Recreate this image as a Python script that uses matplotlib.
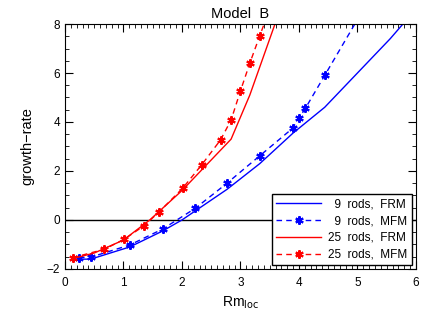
import matplotlib
matplotlib.use("Agg")
import matplotlib.pyplot as plt
from matplotlib.ticker import MultipleLocator

plt.rcParams['font.family'] = ['Liberation Sans', 'DejaVu Sans']

# 9 rods
x_9_frm = [0.15, 0.44, 1.11, 1.67, 2.0, 2.77, 3.33, 3.9, 4.44, 5.0, 5.56, 5.85]
y_9_frm = [-1.6, -1.6, -1.1, -0.45, 0.0, 1.25, 2.3, 3.55, 4.6, 6.0, 7.4, 8.2]
x_9_mfm = [0.24, 0.44, 1.11, 1.67, 2.23, 2.77, 3.33, 3.89, 4.0, 4.11, 4.44, 4.98]
y_9_mfm = [-1.54, -1.52, -1.02, -0.37, 0.48, 1.5, 2.62, 3.74, 4.15, 4.56, 5.9, 8.1]
mfm_9_markers = list(range(11))

# 25 rods
x_25_frm = [0.13, 0.5, 1.0, 1.45, 2.0, 2.4, 2.84, 3.16, 3.62]
y_25_frm = [-1.58, -1.35, -0.82, 0.0, 1.2, 2.2, 3.3, 5.1, 8.2]
x_25_mfm = [0.13, 0.67, 1.01, 1.35, 1.61, 2.01, 2.34, 2.66, 2.84, 3.0, 3.16, 3.33, 3.42]
y_25_mfm = [-1.54, -1.2, -0.79, -0.24, 0.33, 1.29, 2.26, 3.27, 4.08, 5.27, 6.4, 7.52, 8.1]
mfm_25_markers = list(range(12))

fig = plt.figure(figsize=(4.36, 3.12), dpi=100)
ax = fig.add_axes([0.149, 0.138, 0.805, 0.785])

ax.axhline(0, color='black', lw=1)
ast = (6, 2, 0)
ax.plot(x_9_frm, y_9_frm, color='blue', lw=1, label='  9  rods,  FRM')
ax.plot(x_9_mfm, y_9_mfm, color='blue', lw=1, ls=(0, (4, 3)), marker=ast,
        markevery=mfm_9_markers, ms=6, mew=1.5, label='  9  rods,  MFM')
ax.plot(x_25_frm, y_25_frm, color='red', lw=1, label='25  rods,  FRM')
ax.plot(x_25_mfm, y_25_mfm, color='red', lw=1, ls=(0, (4, 3)), marker=ast,
        markevery=mfm_25_markers, ms=6, mew=1.5, label='25  rods,  MFM')

ax.set_xlim(0, 6)
ax.set_ylim(-2, 8)
ax.xaxis.set_major_locator(MultipleLocator(1))
ax.xaxis.set_minor_locator(MultipleLocator(0.1))
ax.yaxis.set_major_locator(MultipleLocator(2))
ax.yaxis.set_minor_locator(MultipleLocator(0.5))
ax.tick_params(which='both', direction='in', top=True, right=True, labelsize=8.5)
ax.tick_params(which='major', length=6)
ax.tick_params(which='minor', length=3)
ax.tick_params(axis='x', pad=6)

ax.set_title('Model  B', fontsize=10.5, pad=4)
ax.set_xlabel('Rm$_{\\mathrm{loc}}$', fontsize=10)
ax.set_ylabel('growth\u2212rate', fontsize=10.5, labelpad=9)

leg = ax.legend(loc='lower right', fontsize=8.5, handlelength=3.8, fancybox=False,
                edgecolor='black', framealpha=1, borderaxespad=0.35,
                labelspacing=0.4, borderpad=0.35, handletextpad=0.6)
leg.get_frame().set_linewidth(1)

fig.savefig('out.png', dpi=100)
